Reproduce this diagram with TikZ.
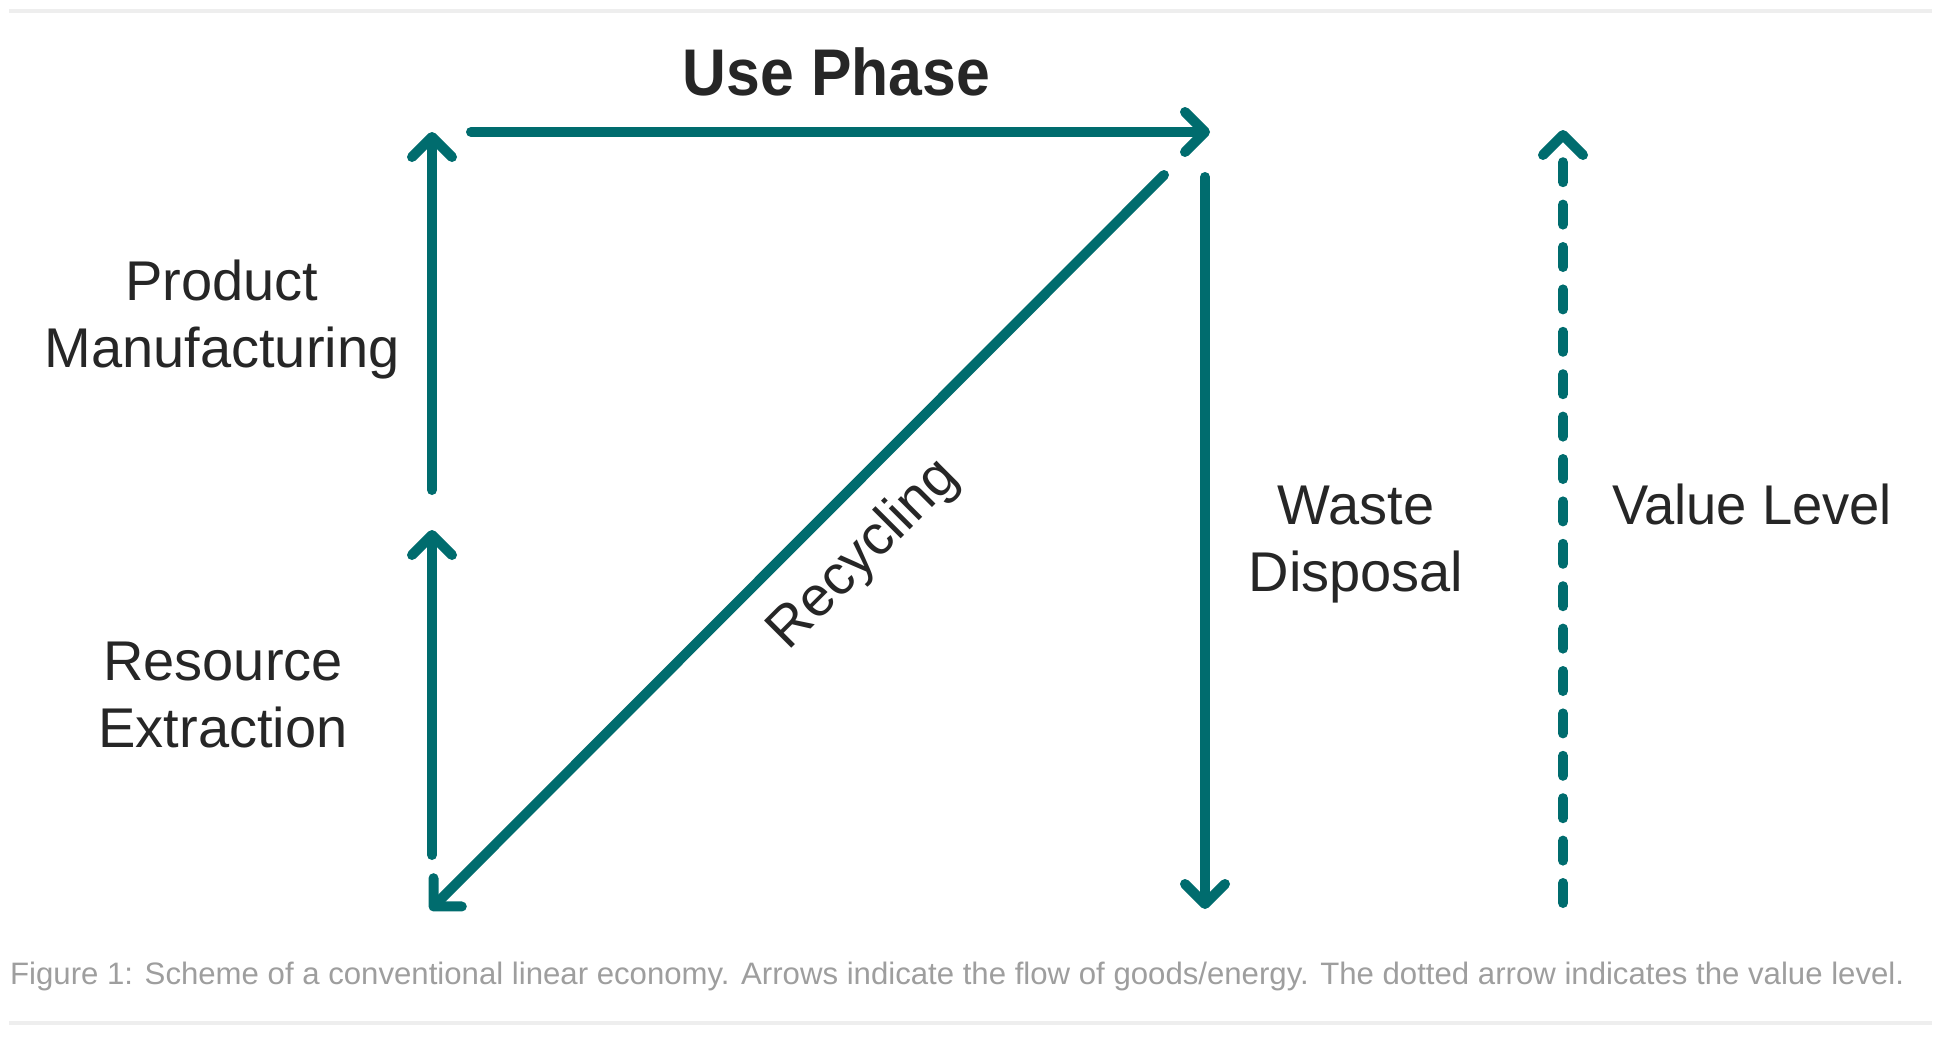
\documentclass[tikz,border=0pt]{standalone}
\usepackage{fontspec}
\setmainfont{Liberation Sans}
\usetikzlibrary{arrows.meta}
\definecolor{flowteal}{RGB}{0,108,110}
\definecolor{inkgray}{HTML}{262626}
\definecolor{capgray}{HTML}{9E9E9E}
\definecolor{rulegray}{HTML}{EEEEEE}
\begin{document}
\begin{tikzpicture}[x=1pt,y=-1pt,
  flow/.style={draw=flowteal, line width=10pt, line cap=round,
    -{Straight Barb[length=20pt,width=40pt,round]}},
  valueflow/.style={flow, dash pattern=on 20pt off 22.4pt},
  lbltext/.style={text=inkgray, font=\fontsize{56}{67}\selectfont, align=center, inner sep=0pt},
  rulestyle/.style={draw=rulegray, line width=4pt}]
\useasboundingbox (0,0) rectangle (1941,1039);
\fill[white] (0,0) rectangle (1941,1039);
% rules
\coordinate (rtl) at (9,11);
\coordinate (rtr) at (1932,11);
\coordinate (rbl) at (9,1023);
\coordinate (rbr) at (1932,1023);
\draw[rulestyle] (rtl) -- (rtr);
\draw[rulestyle] (rbl) -- (rbr);
% connector end points
\coordinate (pmbot) at (432,490);
\coordinate (pmtop) at (432,132);
\coordinate (rebot) at (432,855);
\coordinate (retop) at (432,530);
\coordinate (upl) at (471,132);
\coordinate (upr) at (1210,132);
\coordinate (wdtop) at (1205,177);
\coordinate (wdbot) at (1205,909);
\coordinate (rctop) at (1164,175);
\coordinate (rcbot) at (430,910);
\coordinate (vlbot) at (1563,903);
\coordinate (vltop) at (1563,130);
% arrows
\draw[flow] (pmbot) -- (pmtop);
\draw[flow] (rebot) -- (retop);
\draw[flow] (upl) -- (upr);
\draw[flow] (wdtop) -- (wdbot);
\draw[flow] (rctop) -- (rcbot);
\draw[valueflow] (vlbot) -- (vltop);
% labels
\node[anchor=base, text=inkgray, inner sep=0pt] (usephase) at (836.5,95)
  {\resizebox{307pt}{\height}{\fontsize{66}{66}\selectfont\bfseries Use Phase}};
\node[lbltext, anchor=base] (prodman) at (222,367) {Product\\Manufacturing};
\node[lbltext, anchor=base] (resext) at (223,747) {Resource\\Extraction};
\node[lbltext, anchor=base] (waste) at (1356,591) {Waste\\Disposal};
\node[lbltext, anchor=base] (value) at (1752,524) {\resizebox{280pt}{\height}{Value Level}};
\node[lbltext, rotate=45] (recyc) at (864,555) {Recycling};
\node[anchor=base west, inner sep=0pt, text=capgray] (caption) at (10,984)
  {\resizebox{1894pt}{\height}{\fontsize{31}{31}\selectfont Figure 1: Scheme of a conventional linear economy. Arrows indicate the flow of goods/energy. The dotted arrow indicates the value level.}};
\end{tikzpicture}
\end{document}
